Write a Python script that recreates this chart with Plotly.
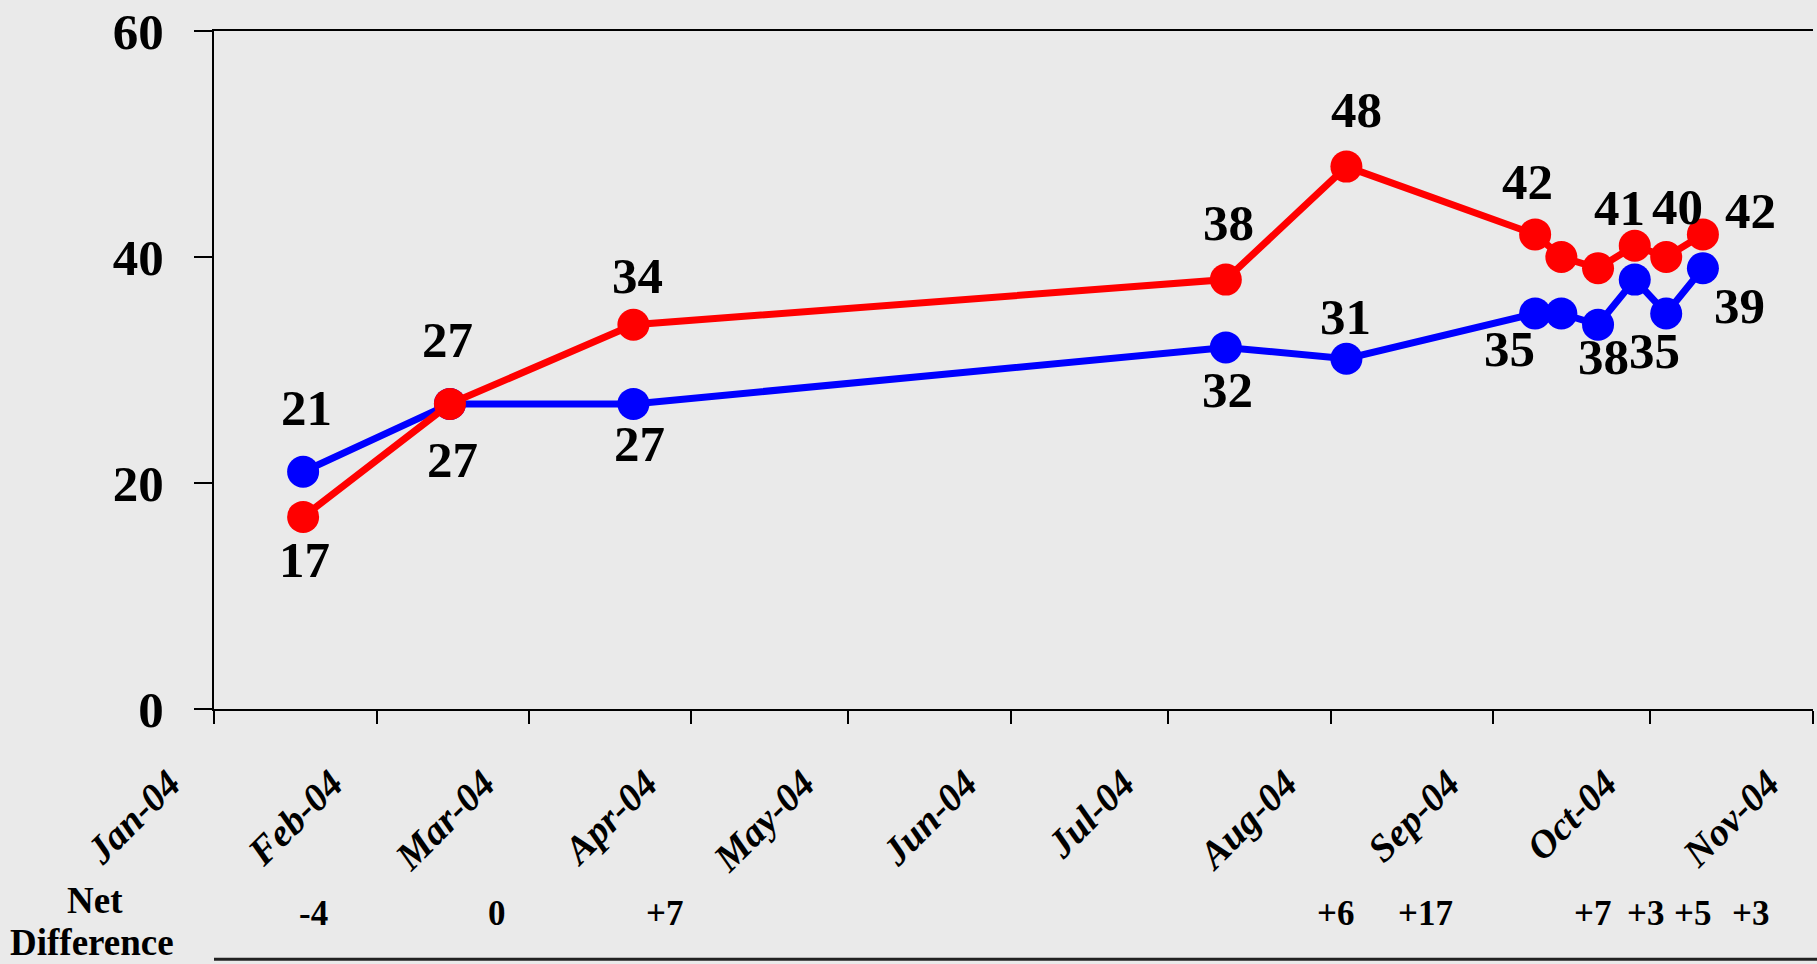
import plotly.graph_objects as go

# ---- data ----
poll_dates = ["2004-01-18", "2004-02-15", "2004-03-21", "2004-07-12", "2004-08-04",
              "2004-09-09", "2004-09-14", "2004-09-21", "2004-09-28", "2004-10-04", "2004-10-11"]
red_values = [17, 27, 34, 38, 48, 42, 40, 39, 41, 40, 42]
blue_values = [21, 27, 27, 32, 31, 35, 35, 34, 38, 35, 39]
red_labels = ["17", "27", "34", "38", "48", "42", "", "", "41", "40", "42"]
blue_labels = ["21", "27", "27", "32", "31", "35", "", "", "38", "35", "39"]

month_ticks = ["2004-01-01", "2004-02-01", "2004-03-01", "2004-04-01", "2004-05-01", "2004-06-01",
               "2004-07-01", "2004-08-01", "2004-09-01", "2004-10-01", "2004-11-01"]
month_tick_text = ["Jan-04", "Feb-04", "Mar-04", "Apr-04", "May-04", "Jun-04",
                   "Jul-04", "Aug-04", "Sep-04", "Oct-04", "Nov-04"]
y_ticks = [0, 20, 40, 60]

net_labels = ["-4", "0", "+7", "+6", "+17", "+7", "+3", "+5", "+3"]
net_label_dates = ["2004-01-20", "2004-02-24", "2004-03-27", "2004-08-02", "2004-08-19",
                   "2004-09-20", "2004-09-30", "2004-10-09", "2004-10-20"]

# ---- style (label pixel offsets: dx right, dy down) ----
red_offsets = [(1, 43), (-2, -64), (4, -49), (3, -57), (10, -57), (-8, -52), None, None,
               (-15, -38), (11, -50), (48, -23)]
blue_offsets = [(3, -64), (3, 56), (6, 40), (2, 43), (-1, -42), (-26, 35), None, None,
                (-31, 77), (-12, 37), (37, 38)]

RED = "#FF0000"
BLUE = "#0000FF"
BG = "#EAEAEA"
SERIF = "Liberation Serif"

fig = go.Figure()

fig.add_trace(go.Scatter(
    x=poll_dates, y=blue_values, mode="lines+markers",
    line=dict(color=BLUE, width=7),
    marker=dict(color=BLUE, size=32, line=dict(width=0)),
    showlegend=False, hoverinfo="x+y",
))
fig.add_trace(go.Scatter(
    x=poll_dates, y=red_values, mode="lines+markers",
    line=dict(color=RED, width=7),
    marker=dict(color=RED, size=32, line=dict(width=0)),
    showlegend=False, hoverinfo="x+y",
))

label_font = dict(family=SERIF, size=51, color="black", weight="bold")
annotations = []
for dates, vals, labels, offs in ((poll_dates, blue_values, blue_labels, blue_offsets),
                                  (poll_dates, red_values, red_labels, red_offsets)):
    for d, v, t, o in zip(dates, vals, labels, offs):
        if not t or o is None:
            continue
        annotations.append(dict(
            x=d, y=v, xref="x", yref="y", text=t, showarrow=False,
            xanchor="center", yanchor="middle",
            xshift=o[0], yshift=-o[1], font=label_font,
        ))

net_font = dict(family=SERIF, size=35, color="black", weight="bold")
for d, t in zip(net_label_dates, net_labels):
    annotations.append(dict(
        x=d, y=-0.301, xref="x", yref="paper", text=t, showarrow=False,
        xanchor="center", yanchor="middle", font=net_font,
    ))

head_font = dict(family=SERIF, size=37, color="black", weight="bold")
annotations.append(dict(x=-0.0745, y=-0.283, xref="paper", yref="paper", text="Net",
                        showarrow=False, xanchor="center", yanchor="middle", font=head_font))
annotations.append(dict(x=-0.076, y=-0.345, xref="paper", yref="paper", text="Difference",
                        showarrow=False, xanchor="center", yanchor="middle", font=head_font))

fig.update_layout(
    width=1817, height=964,
    margin=dict(l=214, r=4, t=25, b=255),
    paper_bgcolor=BG, plot_bgcolor=BG,
    annotations=annotations,
    shapes=[dict(type="line", xref="paper", yref="paper", x0=0, x1=1.01,
                 y0=-0.369, y1=-0.369, line=dict(color="#222222", width=3))],
)

fig.update_xaxes(
    type="date", range=["2004-01-01", "2004-11-01"],
    tickmode="array", tickvals=month_ticks, ticktext=month_tick_text,
    tickangle=-45, ticks="outside", ticklen=13, tickwidth=2, tickcolor="black",
    showline=True, linecolor="black", linewidth=2, mirror=True,
    showgrid=False, zeroline=False,
    tickfont=dict(family=SERIF, size=39, color="black", weight="bold", style="italic"),
    ticklabelshift=-45, ticklabelstandoff=21, ticklabeloverflow="allow",
)
fig.update_yaxes(
    range=[0, 60], tickmode="array", tickvals=y_ticks,
    ticks="outside", ticklen=18, tickwidth=2, tickcolor="black",
    showline=True, linecolor="black", linewidth=2,
    showgrid=False, zeroline=False,
    tickfont=dict(family=SERIF, size=51, color="black", weight="bold"),
    ticklabelstandoff=20, ticklabeloverflow="allow",
)

fig.write_html("out.html", config={"displayModeBar": False},
               post_script="document.body.style.margin='0';document.body.style.overflow='hidden';")
